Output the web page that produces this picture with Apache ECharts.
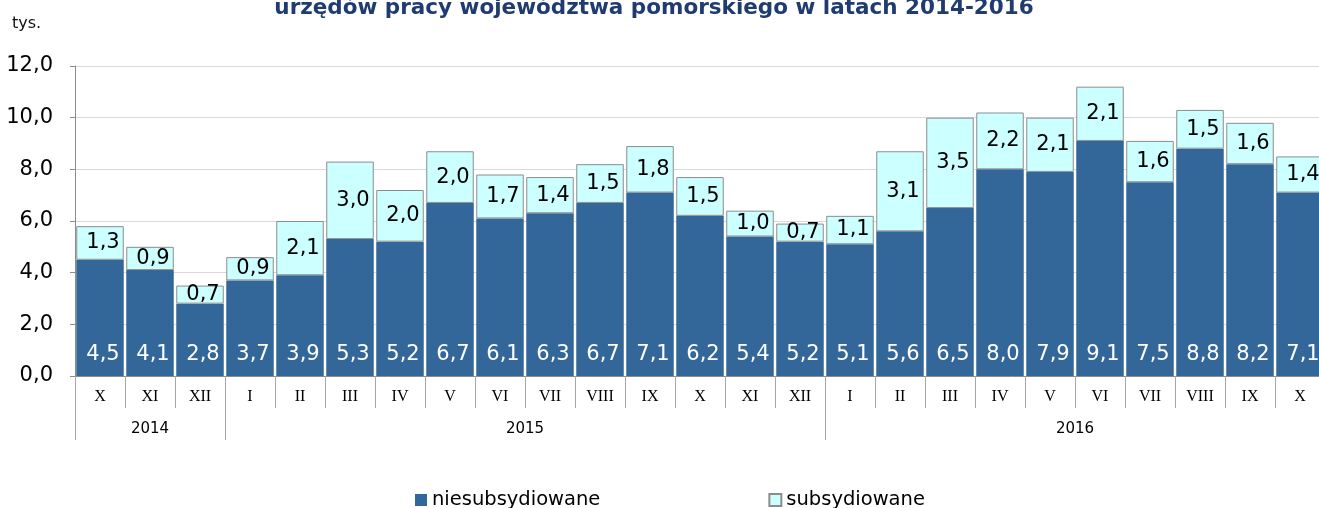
<!DOCTYPE html>
<html lang="pl">
<head>
    <meta charset="UTF-8">
    <title>Bezrobotni</title>
    <script src="https://cdn.jsdelivr.net/npm/echarts@6/dist/echarts.min.js"></script>
    <style>
        html, body { margin: 0; padding: 0; background: #fff; overflow: hidden; }
        /* wykres jest szerszy niz okno - ostatni slupek ucięty jak w oryginale */
        #chart { width: 1325px; height: 508px; }
    </style>
</head>
<body>
    <div id="chart"></div>
    <script>
        // dane
        const months = ['X', 'XI', 'XII', 'I', 'II', 'III', 'IV', 'V', 'VI', 'VII', 'VIII', 'IX', 'X', 'XI', 'XII',
                        'I', 'II', 'III', 'IV', 'V', 'VI', 'VII', 'VIII', 'IX', 'X'];
        const years = ['2014', '2015', '2016'];
        const monthsPerYear = [3, 12, 10];
        const niesubsydiowane = [4.5, 4.1, 2.8, 3.7, 3.9, 5.3, 5.2, 6.7, 6.1, 6.3, 6.7, 7.1, 6.2, 5.4, 5.2,
                                 5.1, 5.6, 6.5, 8.0, 7.9, 9.1, 7.5, 8.8, 8.2, 7.1];
        const subsydiowane = [1.3, 0.9, 0.7, 0.9, 2.1, 3.0, 2.0, 2.0, 1.7, 1.4, 1.5, 1.8, 1.5, 1.0, 0.7,
                              1.1, 3.1, 3.5, 2.2, 2.1, 2.1, 1.6, 1.5, 1.6, 1.4];

        // granice lat i srodki etykiet (w jednostkach miesiecy)
        const yearBounds = [0];
        const yearCenters = [];
        monthsPerYear.forEach(function (n) {
            const start = yearBounds[yearBounds.length - 1];
            yearCenters.push(start + n / 2);
            yearBounds.push(start + n);
        });

        const fmt = function (v) { return Number(v).toFixed(1).replace('.', ','); };

        const chart = echarts.init(document.getElementById('chart'));
        const option = {
            animation: false,
            title: [
                {
                    text: 'urzędów pracy województwa pomorskiego w latach 2014-2016',
                    left: 654,
                    textAlign: 'center',
                    top: -3,
                    padding: 0,
                    textStyle: { fontFamily: 'DejaVu Sans', fontSize: 21.5, fontWeight: 'bold', color: '#1F3B70' }
                },
                {
                    text: 'tys.',
                    left: 12,
                    top: 16,
                    padding: 0,
                    textStyle: { fontFamily: 'DejaVu Sans', fontSize: 16, fontWeight: 'normal', color: '#111' }
                }
            ],
            legend: {
                left: 415,
                top: 490,
                padding: 0,
                itemWidth: 12,
                itemHeight: 12,
                itemGap: 168,
                icon: 'rect',
                textStyle: { fontFamily: 'DejaVu Sans', fontSize: 19.5, color: '#000' },
                data: ['niesubsydiowane', 'subsydiowane']
            },
            grid: { left: 75, right: 0, top: 66, bottom: 132 },
            xAxis: [
                {
                    type: 'category',
                    data: months,
                    axisLine: { lineStyle: { color: '#8c8c8c' } },
                    axisTick: { show: true, interval: 0, length: 32, lineStyle: { color: '#a6a6a6' } },
                    axisLabel: { interval: 0, margin: 13, fontFamily: 'Liberation Serif', fontSize: 16, color: '#000' }
                },
                {
                    type: 'value',
                    position: 'bottom',
                    offset: 32,
                    min: 0,
                    max: yearBounds[yearBounds.length - 1],
                    axisLine: { show: false },
                    splitLine: { show: false },
                    axisTick: { show: true, length: 32, customValues: yearBounds, lineStyle: { color: '#a6a6a6' } },
                    axisLabel: {
                        customValues: yearCenters,
                        margin: 14,
                        fontFamily: 'DejaVu Sans',
                        fontSize: 15,
                        color: '#000',
                        formatter: function (v) {
                            const i = yearCenters.indexOf(v);
                            return i >= 0 ? years[i] : '';
                        }
                    }
                }
            ],
            yAxis: {
                type: 'value',
                min: 0,
                max: 12,
                interval: 2,
                axisLine: { show: true, lineStyle: { color: '#8c8c8c' } },
                axisTick: { show: true, length: 5, lineStyle: { color: '#8c8c8c' } },
                splitLine: { lineStyle: { color: '#d9d9d9' } },
                axisLabel: { margin: 22, fontFamily: 'DejaVu Sans', fontSize: 21, color: '#000', formatter: fmt }
            },
            series: [
                {
                    name: 'niesubsydiowane',
                    type: 'bar',
                    stack: 'a',
                    barCategoryGap: '5%',
                    itemStyle: { color: '#336699' },
                    label: {
                        show: true,
                        position: 'insideBottom',
                        distance: 11,
                        offset: [3, 0],
                        color: '#fff',
                        fontFamily: 'DejaVu Sans',
                        fontSize: 21,
                        formatter: function (p) { return fmt(p.value); }
                    },
                    data: niesubsydiowane
                },
                {
                    name: 'subsydiowane',
                    type: 'bar',
                    stack: 'a',
                    itemStyle: { color: '#CCFFFF', borderColor: '#8c8c8c', borderWidth: 1 },
                    label: {
                        show: true,
                        position: 'inside',
                        offset: [3, 0],
                        color: '#000',
                        fontFamily: 'DejaVu Sans',
                        fontSize: 21,
                        formatter: function (p) { return fmt(p.value); }
                    },
                    data: subsydiowane
                }
            ]
        };
        chart.setOption(option);
    </script>
</body>
</html>
